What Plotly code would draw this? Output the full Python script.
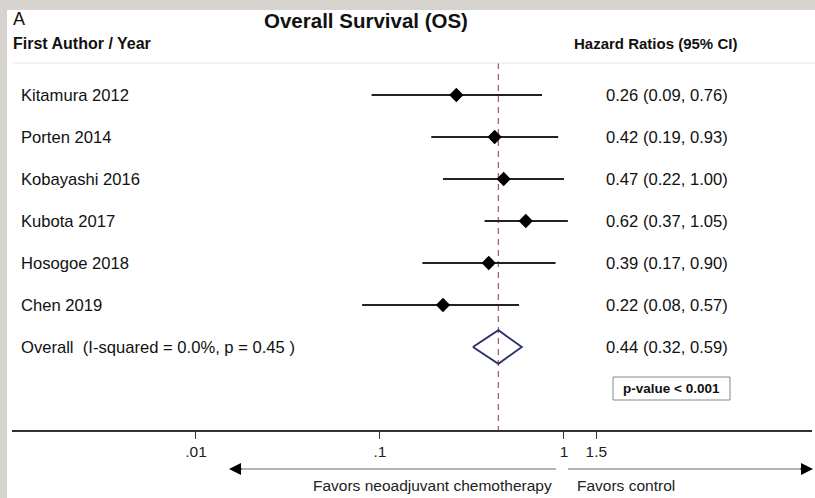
import math
import plotly.graph_objects as go

studies = ["Kitamura 2012", "Porten 2014", "Kobayashi 2016", "Kubota 2017",
           "Hosogoe 2018", "Chen 2019"]
hr = [0.26, 0.42, 0.47, 0.62, 0.39, 0.22]
lo = [0.09, 0.19, 0.22, 0.37, 0.17, 0.08]
hi = [0.76, 0.93, 1.00, 1.05, 0.90, 0.57]
overall_label = "Overall  (I-squared = 0.0%, p = 0.45 )"
overall_hr, overall_lo, overall_hi = 0.44, 0.32, 0.59
tick_vals = [0.01, 0.1, 1, 1.5]
tick_text = [".01", ".1", "1", "1.5"]

W, H = 815, 498
FONT = "Liberation Sans, Arial, sans-serif"

AXIS_Y = 431   # pixel row of the x axis

def py(p):  # pixel y -> paper y
    return (H - p) / H

def px(p):
    return p / W

row_top, row_step = 95, 42.0
nrows = len(studies) + 1
yr = [(H - row_top) / row_step, -row_top / row_step]

def prow(p):  # pixel y -> row units
    return (p - row_top) / row_step

fig = go.Figure()

# white panel
fig.add_shape(type="rect", xref="paper", yref="paper", x0=px(7), x1=1.01, y0=-0.01, y1=py(10),
              fillcolor="white", line_width=0, layer="below")

# pooled estimate reference (dashed)
fig.add_trace(go.Scatter(x=[overall_hr, overall_hr], y=[prow(63), prow(AXIS_Y)], mode="lines",
                         line=dict(color="#a8606e", width=1.3, dash="6px,5px"),
                         showlegend=False, hoverinfo="skip"))

rows = list(range(len(studies)))
for i in rows:
    fig.add_trace(go.Scatter(x=[lo[i], hi[i]], y=[i, i], mode="lines",
                             line=dict(color="#222", width=2), showlegend=False, hoverinfo="skip"))
fig.add_trace(go.Scatter(x=hr, y=rows, mode="markers",
                         marker=dict(symbol="diamond", size=11, color="black"),
                         showlegend=False))
# overall diamond
oi = len(studies)
dh = 0.4
fig.add_trace(go.Scatter(x=[overall_lo, overall_hr, overall_hi, overall_hr, overall_lo],
                         y=[oi, oi - dh, oi, oi + dh, oi], mode="lines",
                         line=dict(color="#2b2f6e", width=1.8), showlegend=False))

# null line at HR = 1
fig.add_shape(type="line", xref="x", yref="paper", x0=0, x1=0, y0=py(AXIS_Y + 7), y1=py(63),
              line=dict(color="#3a3a3a", width=1.5))
# header separator
fig.add_shape(type="line", xref="paper", yref="paper", x0=px(12), x1=1, y0=py(63), y1=py(63),
              line=dict(color="#e6e6e6", width=1))
# p-value box
fig.add_shape(type="rect", xref="paper", yref="paper", x0=px(613), x1=px(730), y0=py(400), y1=py(377),
              line=dict(color="#888", width=1), fillcolor="white")
# arrow shafts
ARROW_Y = AXIS_Y + 38
fig.add_shape(type="line", xref="paper", yref="paper", x0=px(232), x1=px(556), y0=py(ARROW_Y), y1=py(ARROW_Y),
              line=dict(color="#9a9a9a", width=1.6))
fig.add_shape(type="line", xref="paper", yref="paper", x0=px(568), x1=px(808), y0=py(ARROW_Y), y1=py(ARROW_Y),
              line=dict(color="#9a9a9a", width=1.6))

ann = []
ann.append(dict(text="A", x=px(11), y=py(19), xanchor="left", yanchor="middle",
                font=dict(size=18, family=FONT, color="#111")))
ann.append(dict(text="<b>Overall Survival (OS)</b>", x=px(366), y=py(20), xanchor="center", yanchor="middle",
                font=dict(size=20.5, family=FONT, color="#111")))
ann.append(dict(text="<b>First Author / Year</b>", x=px(11), y=py(44), xanchor="left", yanchor="middle",
                font=dict(size=16, family=FONT, color="#111")))
ann.append(dict(text="<b>Hazard Ratios (95% CI)</b>", x=px(572), y=py(44), xanchor="left", yanchor="middle",
                font=dict(size=15, family=FONT, color="#111")))
labels = studies + [overall_label]
hrs = [f"{h:.2f} ({l:.2f}, {u:.2f})" for h, l, u in zip(hr + [overall_hr], lo + [overall_lo], hi + [overall_hi])]
for i in range(nrows):
    ann.append(dict(text=labels[i], x=px(19), y=i, yref="y", xanchor="left", yanchor="middle",
                    font=dict(size=16.6, family=FONT, color="#111")))
    ann.append(dict(text=hrs[i], x=px(604), y=i, yref="y", xanchor="left", yanchor="middle",
                    font=dict(size=16.6, family=FONT, color="#111")))
ann.append(dict(text="<b>p-value < 0.001</b>", x=px(671.5), y=py(388.5), xanchor="center", yanchor="middle",
                font=dict(size=13.5, family=FONT, color="#111")))
# arrow heads
ann.append(dict(text="", x=px(229), y=py(ARROW_Y), ax=14, ay=0, axref="pixel", ayref="pixel",
                showarrow=True, arrowhead=2, arrowsize=1.6, arrowwidth=1.5, arrowcolor="#000"))
ann.append(dict(text="", x=px(813), y=py(ARROW_Y), ax=-14, ay=0, axref="pixel", ayref="pixel",
                showarrow=True, arrowhead=2, arrowsize=1.6, arrowwidth=1.5, arrowcolor="#000"))
ann.append(dict(text="Favors neoadjuvant chemotherapy", x=px(554), y=py(AXIS_Y + 54), xanchor="right",
                yanchor="middle", font=dict(size=15.5, family=FONT, color="#222")))
ann.append(dict(text="Favors control", x=px(575), y=py(AXIS_Y + 54), xanchor="left", yanchor="middle",
                font=dict(size=15.5, family=FONT, color="#222")))
for a in ann:
    a.setdefault("xref", "paper")
    a.setdefault("yref", "paper")
    a.setdefault("showarrow", False)
fig.update_layout(annotations=ann)

fig.update_layout(
    width=W, height=H, margin=dict(l=0, r=0, t=0, b=0),
    paper_bgcolor="#d7d4cf", plot_bgcolor="rgba(0,0,0,0)",
    showlegend=False,
    xaxis=dict(type="log", range=[-3.0, 1.348], domain=[px(12), px(812)],
               anchor="free", position=py(AXIS_Y),
               showline=True, linecolor="#333", linewidth=1.5,
               ticks="outside", ticklen=7, tickcolor="#333", tickwidth=1.3,
               tickvals=tick_vals, ticktext=tick_text,
               tickfont=dict(size=15.5, family=FONT, color="#222"),
               showgrid=False, zeroline=False),
    yaxis=dict(range=yr, domain=[0, 1], visible=False, showgrid=False, zeroline=False),
)

fig.write_html("out.html", config={"displayModeBar": False},
               post_script="document.body.style.margin='0';document.body.style.overflow='hidden';")
